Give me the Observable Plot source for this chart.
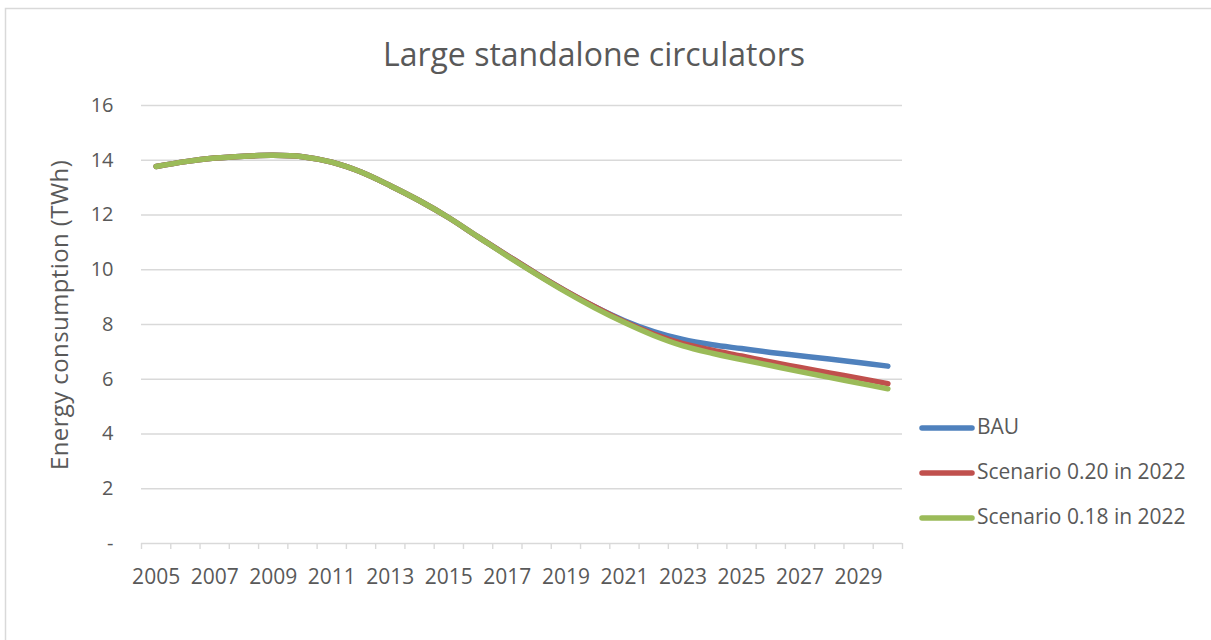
<!DOCTYPE html>
<html>
<head>
<meta charset="utf-8">
<script src="https://cdn.jsdelivr.net/npm/d3@7"></script>
<script src="https://cdn.jsdelivr.net/npm/@observablehq/plot@0.6"></script>
<style>
  html, body { margin: 0; padding: 0; background: #fff; }
  #chart { width: 1211px; height: 640px; }
</style>
</head>
<body>
<div id="chart"></div>
<script>
// Annual energy consumption of large standalone circulators (TWh)
const years = d3.range(2005, 2031);
const bau = [13.77, 13.95, 14.08, 14.15, 14.18, 14.13, 13.93, 13.57, 13.07, 12.52,
             11.90, 11.20, 10.52, 9.85, 9.22, 8.64, 8.14, 7.74, 7.45, 7.26,
             7.12, 6.98, 6.86, 6.74, 6.61, 6.48];
const scenario020 = [13.77, 13.95, 14.08, 14.15, 14.18, 14.13, 13.93, 13.57, 13.07, 12.52,
             11.90, 11.20, 10.52, 9.85, 9.22, 8.64, 8.10, 7.65, 7.30, 7.06,
             6.85, 6.63, 6.43, 6.23, 6.04, 5.84];
const scenario018 = [13.77, 13.95, 14.08, 14.15, 14.18, 14.13, 13.93, 13.57, 13.07, 12.52,
             11.90, 11.20, 10.50, 9.83, 9.19, 8.60, 8.07, 7.60, 7.22, 6.95,
             6.72, 6.50, 6.28, 6.07, 5.86, 5.65];
const seriesNames = ["BAU", "Scenario 0.20 in 2022", "Scenario 0.18 in 2022"];
const seriesColors = ["#4f81bd", "#c0504d", "#9bbb59"];
const yTicks = [0, 2, 4, 6, 8, 10, 12, 14, 16];
const xLabelYears = [2005, 2007, 2009, 2011, 2013, 2015, 2017, 2019, 2021, 2023, 2025, 2027, 2029];

const title = "Large standalone circulators";
const yLabel = "Energy consumption (TWh)";

const rows = [];
[bau, scenario020, scenario018].forEach((vals, i) => {
  vals.forEach((v, j) => rows.push({series: seriesNames[i], year: years[j], value: v}));
});

// category boundaries between consecutive years
const boundaries = d3.range(years[0] - 0.5, years[years.length - 1] + 1, 1);

const font = "'Open Sans', 'Liberation Sans', sans-serif";
const textColor = "#595959";
const gridColor = "#d9d9d9";

const chart = Plot.plot({
  width: 1211,
  height: 640,
  marginLeft: 141,
  marginRight: 309,
  marginTop: 105,
  marginBottom: 97,
  style: {fontFamily: font, fontSize: "20px", color: textColor, background: "white"},
  x: {domain: [years[0] - 0.5, years[years.length - 1] + 0.5]},
  y: {domain: [0, 16]},
  color: {domain: seriesNames, range: seriesColors},
  marks: [
    Plot.gridY(yTicks.filter(d => d > 0), {stroke: gridColor, strokeOpacity: 1, strokeWidth: 1.4}),
    Plot.axisY(yTicks, {
      tickSize: 0, tickPadding: 28, label: null, fill: textColor, fontSize: 20,
      tickFormat: d => d === 0 ? "-" : String(d)
    }),
    Plot.ruleY([0], {stroke: gridColor, strokeWidth: 1.4}),
    Plot.axisX(boundaries, {tickSize: 6, tickFormat: () => "", stroke: gridColor, strokeWidth: 1.4, label: null}),
    Plot.axisX(xLabelYears, {tickSize: 0, tickPadding: 26, label: null, fill: textColor, fontSize: 21, tickFormat: d => String(d)}),
    Plot.line(rows, {
      x: "year", y: "value", z: "series", stroke: "series",
      strokeWidth: 5.5, strokeLinecap: "round", strokeLinejoin: "round",
      curve: "catmull-rom"
    })
  ]
});

const svg = d3.select(chart);

// outer chart border
svg.insert("rect", ":first-child")
  .attr("x", 5.5).attr("y", 8.5).attr("width", 1230).attr("height", 650)
  .attr("fill", "white").attr("stroke", gridColor).attr("stroke-width", 1.5);

// title
svg.append("text")
  .attr("x", 594).attr("y", 57)
  .attr("text-anchor", "middle").attr("dominant-baseline", "middle")
  .attr("font-family", font).attr("font-size", 32).attr("fill", textColor)
  .text(title);

// y-axis title
svg.append("text")
  .attr("transform", "translate(62,315) rotate(-90)")
  .attr("text-anchor", "middle").attr("dominant-baseline", "middle")
  .attr("font-family", font).attr("font-size", 24).attr("letter-spacing", 0.4).attr("fill", textColor)
  .text(yLabel);

// legend
const legend = svg.append("g")
  .attr("font-family", font).attr("font-size", 21).attr("fill", textColor)
  .attr("text-anchor", "start");
seriesNames.forEach((name, i) => {
  const y = 428 + i * 45;
  legend.append("line")
    .attr("x1", 922).attr("x2", 972).attr("y1", y).attr("y2", y)
    .attr("stroke", seriesColors[i]).attr("stroke-width", 5.5).attr("stroke-linecap", "round");
  legend.append("text")
    .attr("x", 977).attr("y", y).attr("dominant-baseline", "middle")
    .attr("text-anchor", "start")
    .text(name);
});

document.getElementById("chart").appendChild(chart);
</script>
</body>
</html>
